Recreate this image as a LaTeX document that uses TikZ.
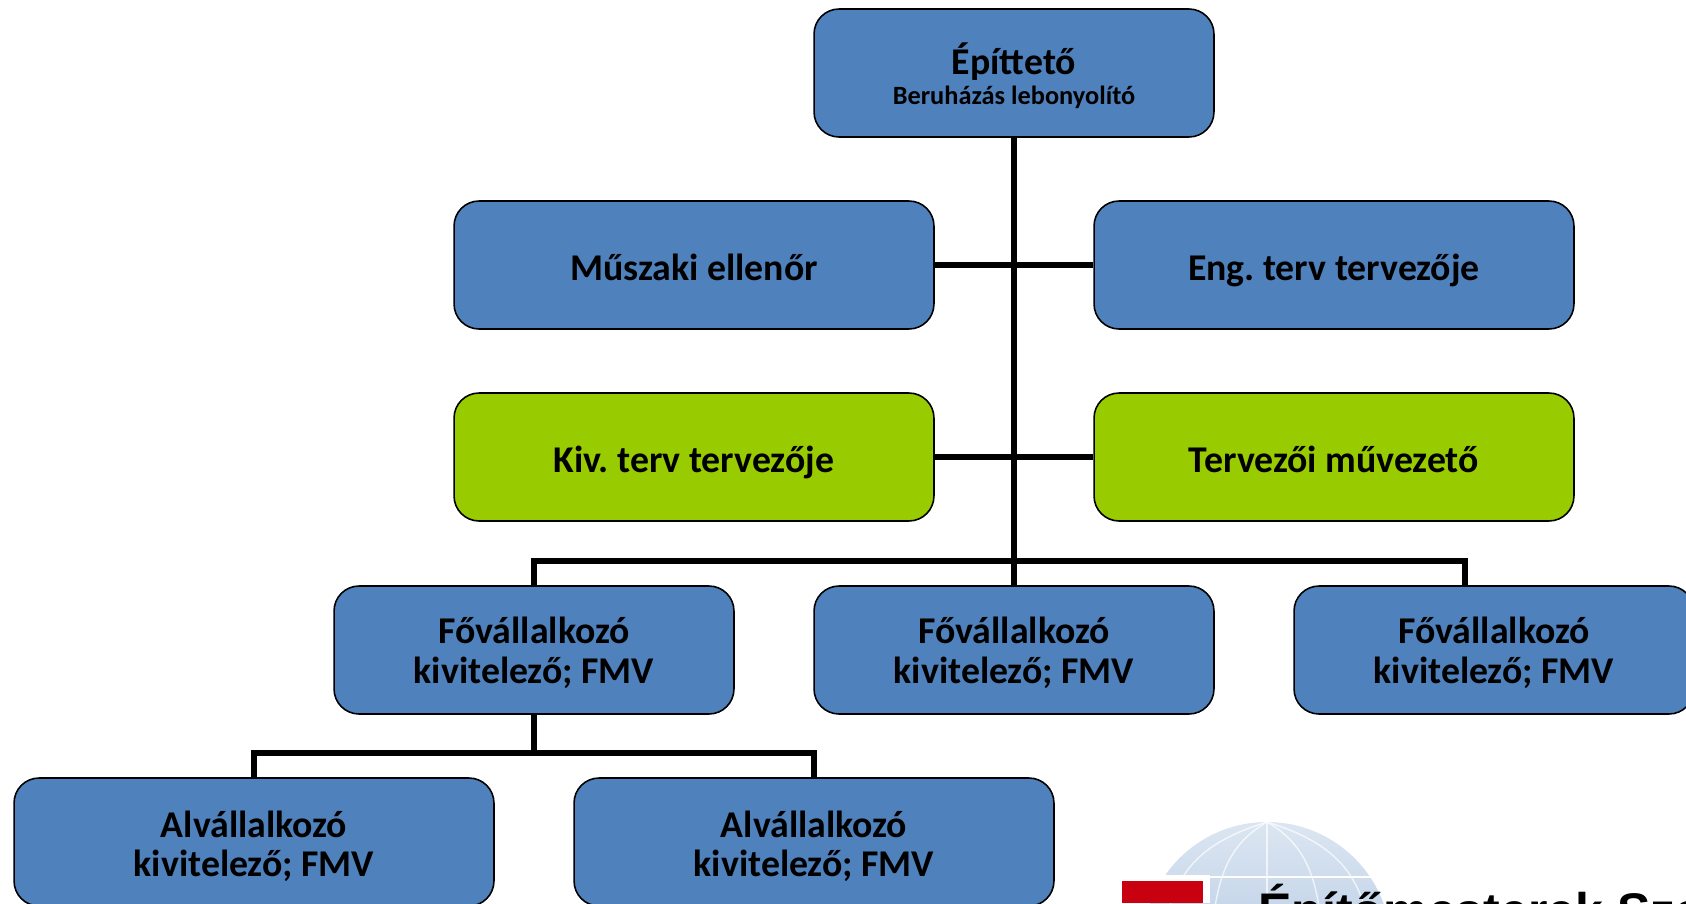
\documentclass[tikz,border=0pt]{standalone}
\usepackage{fontspec}
\setmainfont{Carlito}
\setsansfont{Liberation Sans}
\usepackage{tikz}
\frenchspacing
\newcommand{\lift}[1]{\rule{0pt}{#1}}
\definecolor{boxblue}{HTML}{4F81BD}
\definecolor{boxgreen}{HTML}{99CC00}
\definecolor{logored}{HTML}{C80010}
\tikzset{
  role/.style={draw=black, line width=0.9pt, rounded corners=0.5cm, fill=boxblue, align=center,
    minimum width=#1, minimum height=2.56cm, inner sep=0pt, font=\fontsize{21.5}{22.5}\selectfont\bfseries},
  role/.default=9.6cm,
  oneline/.style={execute at begin node={\rule{0pt}{0.73cm}}, execute at end node={\rule[-0.1cm]{0pt}{0.1cm}}},
  link/.style={line width=3.4pt, draw=black}
}
\begin{document}
\begin{tikzpicture}[x=0.02cm, y=-0.02cm]
    \useasboundingbox (0,0) rectangle (1686,903);
    \clip (0,0) rectangle (1686,903);
    % logo
    \shade[top color=boxblue!20!white, bottom color=boxblue!55!white] (1267,946) circle (124);
    \foreach \bend in {-75,-40,0,40,75} {
      \draw[white, opacity=0.7, line width=0.8pt] (1267,822) .. controls (1267+\bend,845) and (1267+1.3*\bend,880) .. (1267+1.4*\bend,946);
    }
    \draw[white, line width=0.8pt] (1150,877) -- (1385,877);
    \fill[white] (1114,875) rectangle (1210,903);
    \fill[logored] (1122,881) rectangle (1203,903);
    \node[anchor=base west, inner sep=0pt, font=\fontsize{28.5}{28.5}\selectfont\bfseries\sffamily] (logotext) at (1258,928) {Építőmesterek Sza};
    % connectors
    \coordinate (bus) at (1014,561);
    \coordinate (busend) at (1465,586);
    \coordinate (subbus) at (534,753);
    % boxes
    \node[role=8cm, font=\fontsize{21.5}{17}\selectfont\bfseries] (epitteto) at (1014,73) {\lift{0.75cm}Építtető\\{\fontsize{15}{17}\selectfont Beruházás lebonyolító}};
    \node[role, oneline] (ellenor) at (694,265) {Műszaki ellenőr};
    \node[role, oneline] (engterv) at (1334,265) {Eng. terv tervezője};
    \node[role, oneline, fill=boxgreen] (kivterv) at (694,457) {Kiv. terv tervezője};
    \node[role, oneline, fill=boxgreen] (muvezeto) at (1334,457) {Tervezői művezető};
    \node[role=8cm] (fovall1) at (534,650) {\lift{0.65cm}Fővállalkozó\\kivitelező; FMV};
    \node[role=8cm] (fovall2) at (1014,650) {\lift{0.65cm}Fővállalkozó\\kivitelező; FMV};
    \node[role=8cm] (fovall3) at (1494,650) {\lift{0.65cm}Fővállalkozó\\kivitelező; FMV};
    \node[role] (alvall1) at (254,842) {\lift{0.7cm}Alvállalkozó\\kivitelező; FMV};
    \node[role] (alvall2) at (814,842) {\lift{0.7cm}Alvállalkozó\\kivitelező; FMV};
    \draw[link] (epitteto) -- (fovall2);
    \draw[link] (ellenor) -- (engterv);
    \draw[link] (kivterv) -- (muvezeto);
    \draw[link] (fovall1.north) |- (bus) -| (busend);
    \draw[link] (fovall1) -- (subbus);
    \draw[link] (alvall1.north) |- (subbus) -| (alvall2.north);
\end{tikzpicture}
\end{document}
